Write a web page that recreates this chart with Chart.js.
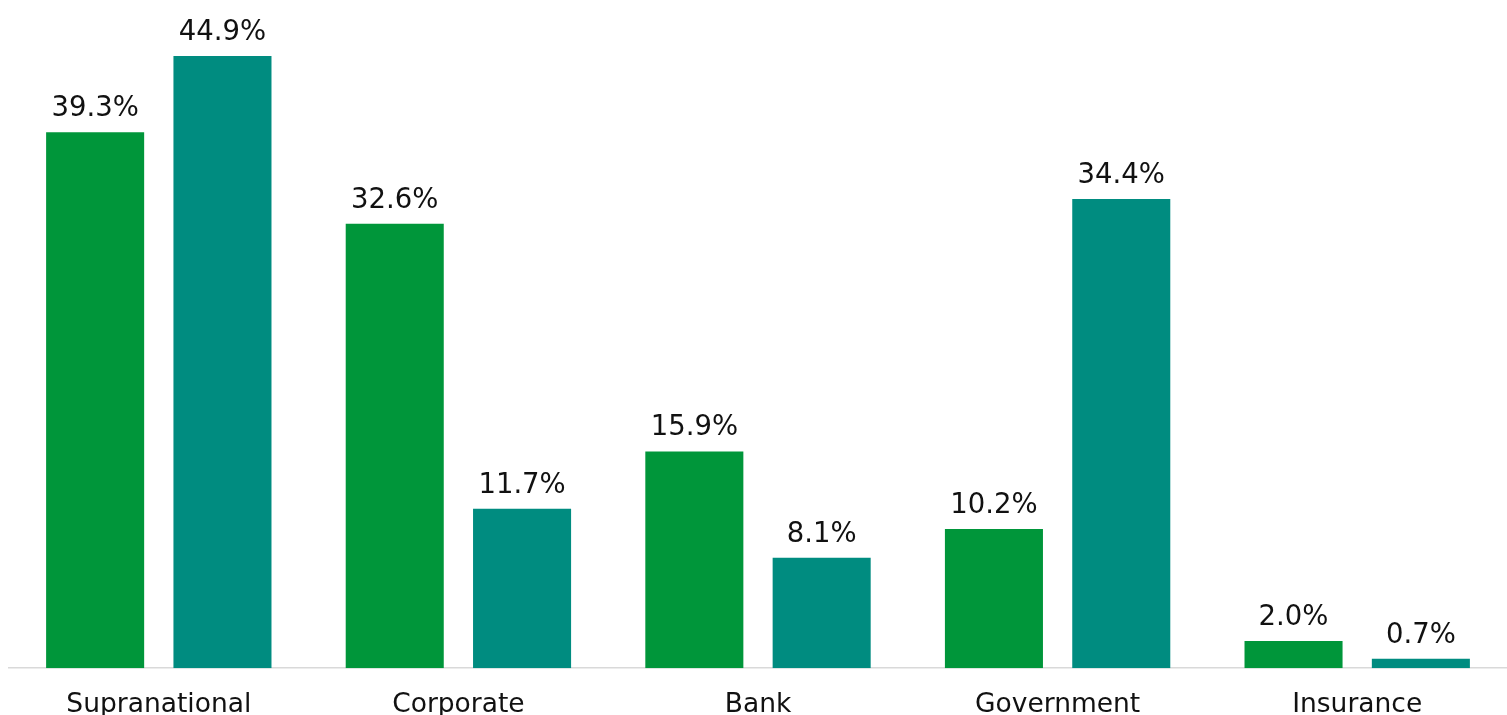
<!DOCTYPE html>
<html>
<head>
<meta charset="utf-8">
<script src="https://cdn.jsdelivr.net/npm/chart.js@4"></script>
<style>
  html, body { margin: 0; padding: 0; background: #ffffff; overflow: hidden; }
  #wrap { width: 1507px; height: 742px; position: relative; }
</style>
</head>
<body>
<div id="wrap"><canvas id="c"></canvas></div>
<script>
const categories = ["Supranational", "Corporate", "Bank", "Government", "Insurance"];
const seriesA = [39.3, 32.6, 15.9, 10.2, 2.0];
const seriesB = [44.9, 11.7, 8.1, 34.4, 0.7];
const colorA = "#00963A";
const colorB = "#008C80";

const labelPlugin = {
  id: "valueLabels",
  afterDatasetsDraw(chart) {
    const ctx = chart.ctx;
    ctx.save();
    ctx.font = "27.5px 'DejaVu Sans'";
    ctx.fillStyle = "#111111";
    ctx.textAlign = "center";
    ctx.textBaseline = "alphabetic";
    chart.data.datasets.forEach((ds, i) => {
      chart.getDatasetMeta(i).data.forEach((bar, j) => {
        ctx.fillText(ds.data[j].toFixed(1) + "%", bar.x, bar.y - 16);
      });
    });
    ctx.restore();
  }
};

new Chart(document.getElementById("c"), {
  type: "bar",
  data: {
    labels: categories,
    datasets: [
      { label: "A", data: seriesA, backgroundColor: colorA, categoryPercentage: 0.85, barPercentage: 0.77 },
      { label: "B", data: seriesB, backgroundColor: colorB, categoryPercentage: 0.85, barPercentage: 0.77 }
    ]
  },
  options: {
    responsive: true,
    maintainAspectRatio: false,
    animation: false,
    layout: { padding: { left: 9, right: -2, top: 0, bottom: 0 } },
    plugins: { legend: { display: false }, tooltip: { enabled: false } },
    scales: {
      x: {
        grid: { display: false, drawTicks: false },
        border: { display: true, color: "#d9d9d9", width: 1.5 },
        ticks: { color: "#111111", font: { family: "DejaVu Sans", size: 26.5 }, padding: 21 }
      },
      y: {
        display: false,
        min: 0,
        max: 49
      }
    }
  },
  plugins: [labelPlugin]
});
</script>
</body>
</html>
